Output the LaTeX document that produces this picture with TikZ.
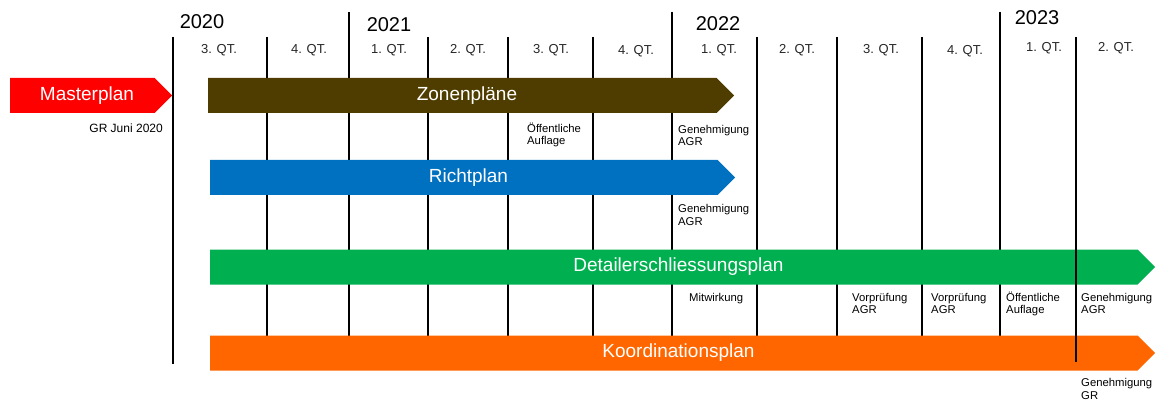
\documentclass[tikz,border=0pt]{standalone}
\usepackage{fontspec}
\setmainfont{Liberation Sans}
\usetikzlibrary{shapes.symbols}
\definecolor{rouge}{HTML}{FF0000}
\definecolor{brun}{HTML}{4F3D00}
\definecolor{bleu}{HTML}{0070C0}
\definecolor{vert}{HTML}{00B050}
\definecolor{orange}{HTML}{FF6600}
\begin{document}
\begin{tikzpicture}[x=1pt, y=-1pt]
\tikzset{balken/.style={signal, signal to=east, signal pointer angle=90, draw=none, text=white, font=\fontsize{19}{22}\selectfont, minimum height=35pt, inner sep=0pt, anchor=west, execute at begin node=\hspace*{9pt}}}
\tikzset{trait/.style={line width=1.6pt}}
\tikzset{quartal/.style={font=\fontsize{13}{15}\selectfont, text=black!85}}
\tikzset{jahr/.style={font=\fontsize{20}{24}\selectfont}}
\tikzset{notiz/.style={font=\fontsize{11.3}{12.5}\selectfont, align=left, anchor=base west, inner sep=0pt}}
\useasboundingbox (0,0) rectangle (1155,403);
\draw[trait] (173,37) -- (173,364);
\draw[trait] (267,37) -- (267,364);
\draw[trait] (349,12) -- (349,364);
\draw[trait] (428,37) -- (428,364);
\draw[trait] (508,37) -- (508,364);
\draw[trait] (593,37) -- (593,364);
\draw[trait] (672,12) -- (672,364);
\draw[trait] (757,37) -- (757,364);
\draw[trait] (837,37) -- (837,364);
\draw[trait] (922,37) -- (922,364);
\draw[trait] (1000,12) -- (1000,364);
\node[jahr] (J2020) at (202,22) {2020};
\node[jahr] (J2021) at (389,25) {2021};
\node[jahr] (J2022) at (718,24) {2022};
\node[jahr] (J2023) at (1037,18) {2023};
\node[quartal] (Q1) at (219,50) {3. QT.};
\node[quartal] (Q2) at (309,50) {4. QT.};
\node[quartal] (Q3) at (389,50) {1. QT.};
\node[quartal] (Q4) at (468,50) {2. QT.};
\node[quartal] (Q5) at (551,50) {3. QT.};
\node[quartal] (Q6) at (636,51) {4. QT.};
\node[quartal] (Q7) at (719,50) {1. QT.};
\node[quartal] (Q8) at (797,50) {2. QT.};
\node[quartal] (Q9) at (881,50) {3. QT.};
\node[quartal] (Q10) at (965,51) {4. QT.};
\node[quartal] (Q11) at (1044,48) {1. QT.};
\node[quartal] (Q12) at (1116,48) {2. QT.};
\node[balken, fill=rouge, minimum width=162pt] (master) at (10,95.5) {Masterplan};
\node[balken, fill=brun, minimum width=526pt] (zonen) at (208,95.5) {Zonenpläne};
\node[balken, fill=bleu, minimum width=525pt] (richt) at (210,177.5) {Richtplan};
\node[balken, fill=vert, minimum width=945pt] (detail) at (210,267) {Detailerschliessungsplan};
\node[balken, fill=orange, minimum width=945pt] (koord) at (210,353) {Koordinationsplan};
\draw[trait] (1076,37) -- (1076,362);
\node[notiz, anchor=base east, font=\fontsize{12}{14}\selectfont] (grjuni) at (163,133) {GR Juni 2020};
\node[notiz] (auflageZ) at (527,145) {Öffentliche\\Auflage};
\node[notiz] (agrZ) at (678,146) {Genehmigung\\AGR};
\node[notiz] (agrR) at (678,225.5) {Genehmigung\\AGR};
\node[notiz] (mitw) at (689,301) {Mitwirkung};
\node[notiz] (vorp1) at (852,313.5) {Vorprüfung\\AGR};
\node[notiz] (vorp2) at (931,313.5) {Vorprüfung\\AGR};
\node[notiz] (auflageD) at (1006,313.5) {Öffentliche\\Auflage};
\node[notiz] (agrD) at (1081,313.5) {Genehmigung\\AGR};
\node[notiz] (grK) at (1081,399) {Genehmigung\\GR};
\end{tikzpicture}
\end{document}
